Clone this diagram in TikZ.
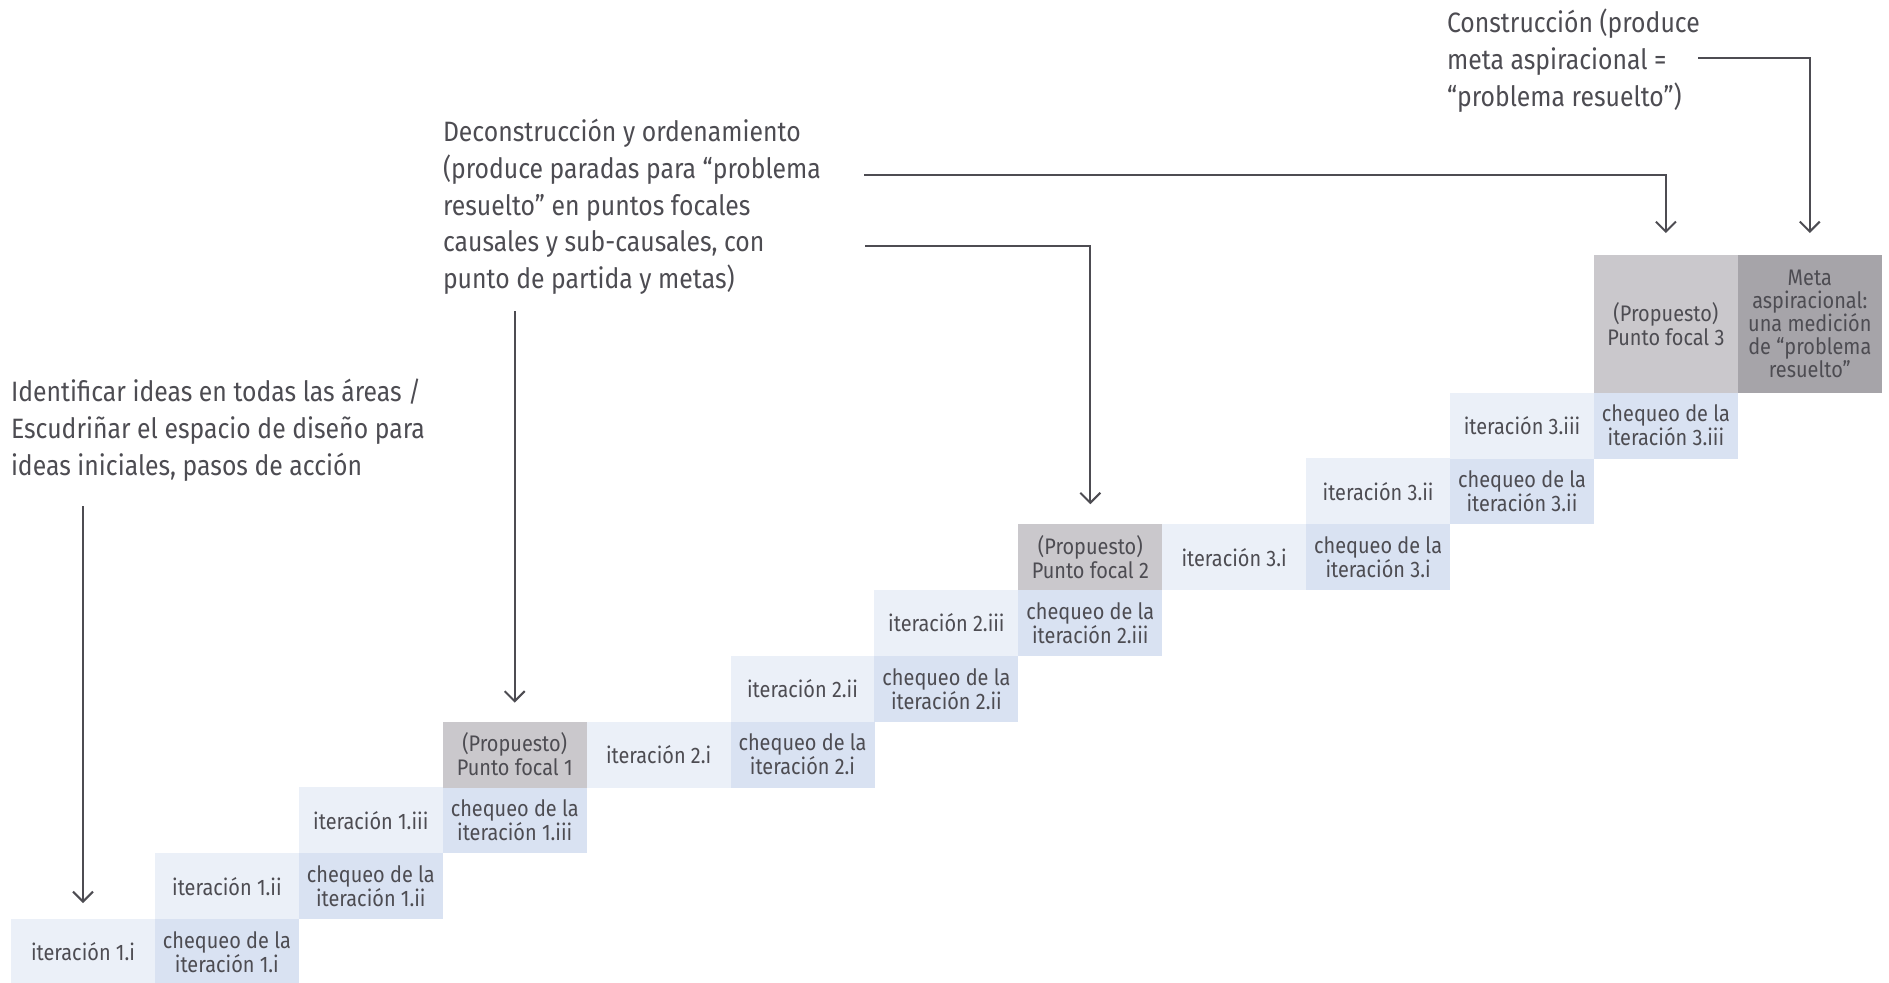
\documentclass[tikz,border=0pt]{standalone}
\usepackage{fontspec}
\setmainfont{Fira Sans}[FakeStretch=0.885]
\usetikzlibrary{arrows.meta}
\definecolor{txt}{HTML}{4D4C52}
\definecolor{iterc}{HTML}{EBF0F8}
\definecolor{chkc}{HTML}{D9E2F2}
\definecolor{pfc}{HTML}{CAC8CC}
\definecolor{metac}{HTML}{A6A4A9}
\begin{document}
\begin{tikzpicture}[x=1pt,y=-1pt,
  cell/.style={anchor=north west, minimum width=144pt, minimum height=66pt,
    inner sep=0pt, outer sep=0pt, align=center, text=txt,
    font=\fontsize{22.5}{24}\selectfont},
  iterbox/.style={cell, fill=iterc},
  chkbox/.style={cell, fill=chkc},
  pfbox/.style={cell, fill=pfc},
  metabox/.style={cell, fill=metac, font=\fontsize{22.5}{23}\selectfont},
  ann/.style={anchor=north west, align=left, inner sep=0pt, outer sep=0pt, text=txt,
    font=\fontsize{28}{36.8}\selectfont},
  arr/.style={draw=txt, line width=2pt, -{Straight Barb[length=10pt,width=20pt,line width=2pt]}}
]
\useasboundingbox (0,0) rectangle (1889,982);

% row 0
\node[iterbox] (i11) at (11,919) {iteración 1.i};
\node[chkbox] (c11) at (154.9,919) {chequeo de la\\iteración 1.i};
% row 1
\node[iterbox] (i12) at (154.9,853.2) {iteración 1.ii};
\node[chkbox] (c12) at (298.8,853.2) {chequeo de la\\iteración 1.ii};
% row 2
\node[iterbox] (i13) at (298.8,787.4) {iteración 1.iii};
\node[chkbox] (c13) at (442.7,787.4) {chequeo de la\\iteración 1.iii};
% row 3
\node[pfbox] (pf1) at (442.7,721.6) {(Propuesto)\\Punto focal 1};
\node[iterbox] (i21) at (586.6,721.6) {iteración 2.i};
\node[chkbox] (c21) at (730.5,721.6) {chequeo de la\\iteración 2.i};
% row 4
\node[iterbox] (i22) at (730.5,655.8) {iteración 2.ii};
\node[chkbox] (c22) at (874.4,655.8) {chequeo de la\\iteración 2.ii};
% row 5
\node[iterbox] (i23) at (874.4,590) {iteración 2.iii};
\node[chkbox] (c23) at (1018.3,590) {chequeo de la\\iteración 2.iii};
% row 6
\node[pfbox] (pf2) at (1018.3,524.2) {(Propuesto)\\Punto focal 2};
\node[iterbox] (i31) at (1162.2,524.2) {iteración 3.i};
\node[chkbox] (c31) at (1306.1,524.2) {chequeo de la\\iteración 3.i};
% row 7
\node[iterbox] (i32) at (1306.1,458.4) {iteración 3.ii};
\node[chkbox] (c32) at (1450,458.4) {chequeo de la\\iteración 3.ii};
% row 8
\node[iterbox] (i33) at (1450,392.6) {iteración 3.iii};
\node[chkbox] (c33) at (1593.9,392.6) {chequeo de la\\iteración 3.iii};
% top
\node[pfbox, minimum height=137.8pt] (pf3) at (1593.9,255) {(Propuesto)\\Punto focal 3};
\node[metabox, minimum height=137.8pt] (meta) at (1737.8,255) {Meta\\aspiracional:\\una medición\\de “problema\\resuelto”};

% annotations
\node[ann] (t1) at (11,379) {Identificar ideas en todas las áreas /\\Escudriñar el espacio de diseño para\\ideas iniciales, pasos de acción};
\node[ann] (t2) at (443,119) {Deconstrucción y ordenamiento\\(produce paradas para “problema\\resuelto” en puntos focales\\causales y sub-causales, con\\punto de partida y metas)};
\node[ann] (t3) at (1447,9) {Construcción (produce\\meta aspiracional =\\“problema resuelto”)};

% connectors
\coordinate (a1) at (83,506);
\coordinate (a2) at (514.7,311);
\coordinate (a3) at (865,246);
\coordinate (a4) at (864,175);
\coordinate (a5) at (1698,58);
\draw[arr, shorten >=16pt] (a1) -- (i11.north);
\draw[arr, shorten >=19pt] (a2) -- (pf1.north);
\draw[arr, shorten >=20pt] (a3) -| (pf2.north);
\draw[arr, shorten >=22pt] (a4) -| (pf3.north);
\draw[arr, shorten >=22pt] (a5) -| (meta.north);
\end{tikzpicture}
\end{document}
